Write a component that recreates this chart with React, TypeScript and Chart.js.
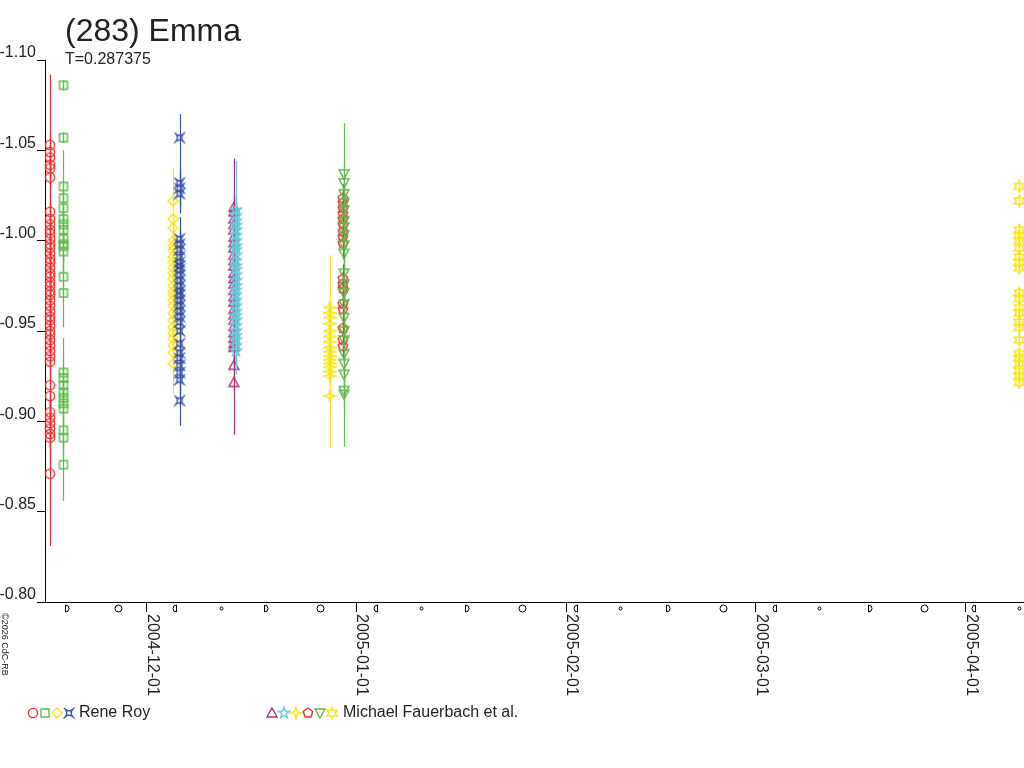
import React, { useEffect, useRef } from 'react';
import { Chart, registerables } from 'chart.js';

Chart.register(...registerables);

const FONT = '"Liberation Sans", Arial, Helvetica, sans-serif';

const TITLE = '(283) Emma';
const SUBTITLE = 'T=0.287375';
const COPYRIGHT = '©2026 CdC-RB';
const observerNames = ['Rene Roy', 'Michael Fauerbach et al.'];

const yTicks = [-1.1, -1.05, -1.0, -0.95, -0.9, -0.85, -0.8];
const xTickDates = ['2004-12-01', '2005-01-01', '2005-02-01', '2005-03-01', '2005-04-01'];
const xRange = ['2004-11-16T00:00:00Z', '2005-04-09T15:00:00Z'];

const moonFirstQuarter = ['2004-11-19T05:50Z', '2004-12-18T16:40Z', '2005-01-17T06:57Z', '2005-02-16T00:16Z', '2005-03-17T19:19Z'];
const moonFull = ['2004-11-26T20:07Z', '2004-12-26T15:06Z', '2005-01-25T10:32Z', '2005-02-24T04:54Z', '2005-03-25T20:58Z'];
const moonLastQuarter = ['2004-12-05T00:53Z', '2005-01-03T17:46Z', '2005-02-02T07:27Z', '2005-03-03T17:36Z', '2005-04-02T00:50Z'];
const moonNew = ['2004-12-12T01:29Z', '2005-01-10T12:03Z', '2005-02-08T22:28Z', '2005-03-10T09:10Z', '2005-04-08T20:32Z'];

// Rene Roy — red circles
const roy1Date = '2004-11-16T18:00:00Z';
const roy1Mag = [-1.053, -1.049, -1.046, -1.042, -1.04, -1.035, -1.016, -1.012, -1.009, -1.006, -1.004, -1.001, -0.998, -0.996, -0.993, -0.99, -0.988, -0.985, -0.982, -0.98, -0.977, -0.975, -0.972, -0.97, -0.967, -0.964, -0.961, -0.958, -0.956, -0.953, -0.95, -0.948, -0.945, -0.942, -0.939, -0.936, -0.933, -0.92, -0.914, -0.905, -0.902, -0.899, -0.896, -0.893, -0.891, -0.871];
const roy1Err = [0.039, 0.012, 0.01, 0.011, 0.009, 0.012, 0.01, 0.009, 0.011, 0.008, 0.01, 0.009, 0.011, 0.008, 0.01, 0.009, 0.012, 0.01, 0.009, 0.011, 0.01, 0.008, 0.012, 0.009, 0.01, 0.011, 0.009, 0.01, 0.012, 0.008, 0.011, 0.01, 0.009, 0.012, 0.01, 0.011, 0.013, 0.012, 0.011, 0.013, 0.012, 0.014, 0.011, 0.013, 0.02, 0.04];

// Rene Roy — green squares
const roy2Date = '2004-11-18T17:30:00Z';
const roy2Mag = [-1.086, -1.057, -1.03, -1.0235, -1.018, -1.012, -1.009, -1.006, -1.001, -0.998, -0.997, -0.994, -0.98, -0.971, -0.927, -0.924, -0.92, -0.916, -0.913, -0.91, -0.907, -0.895, -0.891, -0.876];
const roy2Err = [0.003, 0.003, 0.02, 0.01, 0.009, 0.011, 0.01, 0.008, 0.012, 0.01, 0.009, 0.011, 0.01, 0.019, 0.019, 0.011, 0.01, 0.012, 0.009, 0.011, 0.01, 0.012, 0.011, 0.02];

// Rene Roy — yellow diamonds
const roy3Date = '2004-12-04T22:00:00Z';
const roy3Mag = [-1.022, -1.012, -1.007, -1.0, -0.997, -0.995, -0.991, -0.988, -0.985, -0.982, -0.979, -0.975, -0.972, -0.97, -0.967, -0.964, -0.96, -0.956, -0.952, -0.949, -0.946, -0.942, -0.938, -0.932];
const roy3Err = [0.018, 0.01, 0.009, 0.011, 0.008, 0.01, 0.009, 0.011, 0.01, 0.008, 0.012, 0.009, 0.01, 0.011, 0.009, 0.01, 0.012, 0.009, 0.011, 0.01, 0.012, 0.011, 0.013, 0.017];

// Rene Roy — blue curl squares
const roy4Date = '2004-12-05T21:00:00Z';
const roy4Mag = [-1.057, -1.032, -1.029, -1.026, -1.001, -0.998, -0.995, -0.991, -0.988, -0.986, -0.984, -0.981, -0.978, -0.975, -0.972, -0.97, -0.967, -0.964, -0.961, -0.958, -0.955, -0.95, -0.943, -0.938, -0.935, -0.931, -0.927, -0.923, -0.9115];
const roy4Err = [0.013, 0.012, 0.01, 0.011, 0.012, 0.01, 0.009, 0.011, 0.01, 0.008, 0.012, 0.009, 0.01, 0.011, 0.009, 0.01, 0.012, 0.009, 0.011, 0.01, 0.012, 0.011, 0.01, 0.012, 0.011, 0.01, 0.012, 0.011, 0.014];

// Michael Fauerbach et al. — magenta triangles
const fau1Date = '2004-12-13T21:30:00Z';
const fau1Mag = [-1.0185, -1.016, -1.012, -1.009, -1.006, -1.002, -0.999, -0.996, -0.992, -0.989, -0.986, -0.982, -0.979, -0.976, -0.9725, -0.969, -0.966, -0.962, -0.959, -0.956, -0.9525, -0.949, -0.946, -0.943, -0.941, -0.931, -0.9215];
const fau1Err = [0.027, 0.01, 0.012, 0.009, 0.011, 0.01, 0.013, 0.009, 0.011, 0.012, 0.01, 0.009, 0.011, 0.012, 0.01, 0.011, 0.009, 0.012, 0.01, 0.011, 0.012, 0.01, 0.013, 0.011, 0.012, 0.014, 0.029];

// cyan stars
const fau2Date = '2004-12-14T05:00:00Z';
const fau2Mag = [-1.017, -1.014, -1.011, -1.0085, -1.006, -1.003, -1.0, -0.997, -0.995, -0.992, -0.989, -0.986, -0.984, -0.981, -0.978, -0.975, -0.9725, -0.97, -0.967, -0.964, -0.961, -0.9585, -0.956, -0.953, -0.95, -0.9475, -0.945, -0.942, -0.939];
const fau2Err = [0.027, 0.012, 0.01, 0.011, 0.013, 0.01, 0.012, 0.011, 0.009, 0.012, 0.01, 0.011, 0.013, 0.01, 0.012, 0.011, 0.01, 0.012, 0.011, 0.013, 0.01, 0.012, 0.011, 0.01, 0.012, 0.011, 0.01, 0.012, 0.013];

// yellow four-point stars
const fau3Date = '2004-12-28T02:00:00Z';
const fau3Mag = [-0.963, -0.96, -0.9575, -0.954, -0.95, -0.947, -0.944, -0.941, -0.9385, -0.936, -0.934, -0.932, -0.93, -0.9275, -0.925, -0.914];
const fau3Err = [0.029, 0.011, 0.01, 0.012, 0.009, 0.011, 0.01, 0.012, 0.011, 0.01, 0.012, 0.011, 0.01, 0.012, 0.011, 0.029];

// red pentagons
const fau4Date = '2004-12-30T00:00:00Z';
const fau4Mag = [-1.0235, -1.021, -1.018, -1.015, -1.012, -1.009, -1.005, -1.002, -0.9985, -0.979, -0.976, -0.9735, -0.965, -0.962, -0.9515, -0.945, -0.9415];
const fau4Err = [0.008, 0.007, 0.009, 0.008, 0.007, 0.009, 0.008, 0.007, 0.009, 0.008, 0.007, 0.009, 0.008, 0.007, 0.009, 0.008, 0.007];

// green down triangles
const fau5Date = '2004-12-30T04:00:00Z';
const fau5Mag = [-1.037, -1.032, -1.026, -1.021, -1.017, -1.011, -1.0075, -1.003, -0.9975, -0.993, -0.982, -0.976, -0.971, -0.965, -0.9575, -0.95, -0.945, -0.9375, -0.932, -0.926, -0.917, -0.915];
const fau5Err = [0.028, 0.012, 0.011, 0.01, 0.012, 0.011, 0.01, 0.012, 0.011, 0.013, 0.012, 0.01, 0.011, 0.012, 0.01, 0.011, 0.012, 0.01, 0.011, 0.012, 0.013, 0.029];

// yellow six-point stars
const fau6Date = '2005-04-08T22:00:00Z';
const fau6Mag = [-1.03, -1.022, -1.006, -1.003, -1.0, -0.996, -0.991, -0.988, -0.985, -0.971, -0.968, -0.963, -0.96, -0.955, -0.952, -0.945, -0.9375, -0.935, -0.932, -0.928, -0.925, -0.9215];
const fau6Err = [0.003, 0.002, 0.003, 0.002, 0.003, 0.003, 0.002, 0.003, 0.002, 0.003, 0.002, 0.003, 0.003, 0.002, 0.003, 0.002, 0.003, 0.002, 0.003, 0.002, 0.003, 0.002];

const RED = 'rgb(238,45,45)';
const GREEN = 'rgb(95,185,75)';
const YELLOW = 'rgb(248,230,20)';
const BLUE = 'rgb(55,80,165)';
const MAGENTA = 'rgb(176,45,120)';
const CYAN = 'rgb(105,203,220)';

type Shape = 'circle' | 'square' | 'diamond' | 'curl' | 'triangle' | 'star5' | 'star4' | 'pentagon' | 'triangleDown' | 'star6';

const seriesDefs: { date: string; mag: number[]; err: number[]; shape: Shape; color: string; observer: number }[] = [
  { date: roy1Date, mag: roy1Mag, err: roy1Err, shape: 'circle', color: RED, observer: 0 },
  { date: roy2Date, mag: roy2Mag, err: roy2Err, shape: 'square', color: GREEN, observer: 0 },
  { date: roy3Date, mag: roy3Mag, err: roy3Err, shape: 'diamond', color: YELLOW, observer: 0 },
  { date: roy4Date, mag: roy4Mag, err: roy4Err, shape: 'curl', color: BLUE, observer: 0 },
  { date: fau1Date, mag: fau1Mag, err: fau1Err, shape: 'triangle', color: MAGENTA, observer: 1 },
  { date: fau2Date, mag: fau2Mag, err: fau2Err, shape: 'star5', color: CYAN, observer: 1 },
  { date: fau3Date, mag: fau3Mag, err: fau3Err, shape: 'star4', color: YELLOW, observer: 1 },
  { date: fau4Date, mag: fau4Mag, err: fau4Err, shape: 'pentagon', color: RED, observer: 1 },
  { date: fau5Date, mag: fau5Mag, err: fau5Err, shape: 'triangleDown', color: GREEN, observer: 1 },
  { date: fau6Date, mag: fau6Mag, err: fau6Err, shape: 'star6', color: YELLOW, observer: 1 },
];

function starPath(g: CanvasRenderingContext2D, m: number, n: number, ro: number, ri: number) {
  for (let i = 0; i < n * 2; i++) {
    const r = i % 2 === 0 ? ro : ri;
    const a = -Math.PI / 2 + (i * Math.PI) / n;
    const px = m + r * Math.cos(a);
    const py = m + r * Math.sin(a);
    if (i === 0) g.moveTo(px, py);
    else g.lineTo(px, py);
  }
  g.closePath();
}

function makeMarker(shape: Shape, color: string): HTMLCanvasElement {
  const size = 14;
  const c = document.createElement('canvas');
  c.width = size;
  c.height = size;
  const g = c.getContext('2d') as CanvasRenderingContext2D;
  g.strokeStyle = color;
  g.lineWidth = 1.4;
  g.lineJoin = 'miter';
  const m = size / 2;
  g.beginPath();
  switch (shape) {
    case 'circle':
      g.arc(m, m, 4.6, 0, Math.PI * 2);
      break;
    case 'square':
      g.rect(m - 4, m - 4, 8, 8);
      break;
    case 'diamond':
      g.moveTo(m, m - 5);
      g.lineTo(m + 5, m);
      g.lineTo(m, m + 5);
      g.lineTo(m - 5, m);
      g.closePath();
      break;
    case 'curl':
      g.moveTo(m - 3.5, m - 3.5);
      g.quadraticCurveTo(m, m - 1, m + 3.5, m - 3.5);
      g.quadraticCurveTo(m + 1, m, m + 3.5, m + 3.5);
      g.quadraticCurveTo(m, m + 1, m - 3.5, m + 3.5);
      g.quadraticCurveTo(m - 1, m, m - 3.5, m - 3.5);
      g.moveTo(m - 3.5, m - 3.5); g.lineTo(m - 5, m - 5);
      g.moveTo(m + 3.5, m - 3.5); g.lineTo(m + 5, m - 5);
      g.moveTo(m + 3.5, m + 3.5); g.lineTo(m + 5, m + 5);
      g.moveTo(m - 3.5, m + 3.5); g.lineTo(m - 5, m + 5);
      break;
    case 'triangle':
      g.moveTo(m, m - 5);
      g.lineTo(m + 5, m + 4);
      g.lineTo(m - 5, m + 4);
      g.closePath();
      break;
    case 'triangleDown':
      g.moveTo(m - 5, m - 4);
      g.lineTo(m + 5, m - 4);
      g.lineTo(m, m + 5);
      g.closePath();
      break;
    case 'pentagon':
      for (let i = 0; i < 5; i++) {
        const a = -Math.PI / 2 + (i * 2 * Math.PI) / 5;
        const px = m + 5 * Math.cos(a);
        const py = m + 5 * Math.sin(a);
        if (i === 0) g.moveTo(px, py);
        else g.lineTo(px, py);
      }
      g.closePath();
      break;
    case 'star5':
      starPath(g, m, 5, 5.8, 2.4);
      break;
    case 'star4':
      starPath(g, m, 4, 5.8, 1.8);
      break;
    case 'star6':
      starPath(g, m, 6, 5.8, 3.0);
      break;
  }
  g.stroke();
  return c;
}

const ms = (s: string) => Date.parse(s);

const decorPlugin = {
  id: 'decor',
  beforeDatasetDraw(chart: any, args: any) {
    const ds = chart.data.datasets[args.index];
    const errs: number[] | undefined = ds.errors;
    if (!errs) return;
    const ctx: CanvasRenderingContext2D = chart.ctx;
    const xs = chart.scales.x;
    const ys = chart.scales.y;
    ctx.save();
    ctx.strokeStyle = ds.errorColor;
    ctx.lineWidth = 1.2;
    ds.data.forEach((p: { x: number; y: number }, i: number) => {
      const px = Math.round(xs.getPixelForValue(p.x)) + 0.5;
      const y1 = ys.getPixelForValue(p.y - errs[i]);
      const y2 = ys.getPixelForValue(p.y + errs[i]);
      ctx.beginPath();
      ctx.moveTo(px, y1);
      ctx.lineTo(px, y2);
      ctx.stroke();
    });
    ctx.restore();
  },
  afterDraw(chart: any) {
    const ctx: CanvasRenderingContext2D = chart.ctx;
    const xs = chart.scales.x;
    const markers: HTMLCanvasElement[] = chart.options.plugins.decor.markers;
    ctx.save();
    ctx.fillStyle = '#222';
    ctx.textAlign = 'left';
    ctx.textBaseline = 'alphabetic';
    ctx.font = `32px ${FONT}`;
    ctx.fillText(TITLE, 65, 41);
    ctx.font = `16px ${FONT}`;
    ctx.fillText(SUBTITLE, 65, 64);

    // rotated date labels
    const axisY = chart.chartArea.bottom;
    xTickDates.forEach((d) => {
      const px = Math.round(xs.getPixelForValue(ms(d + 'T00:00:00Z')));
      ctx.save();
      ctx.translate(px + 1, axisY + 12);
      ctx.rotate(Math.PI / 2);
      ctx.fillText(d, 0, 0);
      ctx.restore();
    });

    // copyright
    ctx.save();
    ctx.font = `9px ${FONT}`;
    ctx.translate(2, axisY + 11);
    ctx.rotate(Math.PI / 2);
    ctx.fillText(COPYRIGHT, 0, 0);
    ctx.restore();

    // moon phases
    const my = axisY + 6.5;
    ctx.strokeStyle = '#000';
    ctx.lineWidth = 1;
    moonFull.forEach((d) => {
      const px = Math.round(xs.getPixelForValue(ms(d))) + 0.5;
      ctx.beginPath();
      ctx.arc(px, my, 3.5, 0, Math.PI * 2);
      ctx.stroke();
    });
    moonNew.forEach((d) => {
      const px = Math.round(xs.getPixelForValue(ms(d))) + 0.5;
      ctx.beginPath();
      ctx.arc(px, my, 1.5, 0, Math.PI * 2);
      ctx.stroke();
    });
    moonFirstQuarter.forEach((d) => {
      const px = Math.round(xs.getPixelForValue(ms(d))) - 1.5;
      ctx.beginPath();
      ctx.moveTo(px, my - 3.5);
      ctx.lineTo(px, my + 3.5);
      ctx.arc(px, my, 3.5, Math.PI / 2, -Math.PI / 2, true);
      ctx.stroke();
    });
    moonLastQuarter.forEach((d) => {
      const px = Math.round(xs.getPixelForValue(ms(d))) + 2.5;
      ctx.beginPath();
      ctx.moveTo(px, my - 3.5);
      ctx.lineTo(px, my + 3.5);
      ctx.arc(px, my, 3.5, Math.PI / 2, -Math.PI / 2, false);
      ctx.stroke();
    });

    // legend
    const ly = 713;
    const legendStarts = [33, 272];
    const textStarts = [79, 343];
    observerNames.forEach((name, oi) => {
      let k = 0;
      seriesDefs.forEach((s, si) => {
        if (s.observer !== oi) return;
        const cx = legendStarts[oi] + k * 12;
        const img = markers[si];
        ctx.drawImage(img, Math.round(cx - img.width / 2), Math.round(ly - img.height / 2));
        k++;
      });
      ctx.font = `16px ${FONT}`;
      ctx.fillStyle = '#222';
      ctx.textBaseline = 'middle';
      ctx.fillText(name, textStarts[oi], ly);
      ctx.textBaseline = 'alphabetic';
    });
    ctx.restore();
  },
};

export default function App() {
  const ref = useRef<HTMLCanvasElement | null>(null);

  useEffect(() => {
    document.body.style.margin = '0';
    const canvas = ref.current;
    if (!canvas) return;
    const markers = seriesDefs.map((s) => makeMarker(s.shape, s.color));
    const n = seriesDefs.length;
    const datasets = seriesDefs.map((s, i) => ({
      label: observerNames[s.observer],
      data: s.mag.map((m) => ({ x: ms(s.date), y: m })),
      errors: s.err,
      errorColor: s.color,
      pointStyle: markers[i],
      pointRadius: 5,
      borderColor: s.color,
      backgroundColor: s.color,
      showLine: false,
      clip: false,
      order: n - i,
    }));

    const chart = new Chart(canvas, {
      type: 'scatter',
      data: { datasets: datasets as any },
      plugins: [decorPlugin as any],
      options: {
        animation: false,
        responsive: false,
        devicePixelRatio: 1,
        events: [],
        layout: { autoPadding: false, padding: { top: 60, left: 0, right: 0, bottom: 0 } },
        plugins: {
          legend: { display: false },
          tooltip: { enabled: false },
          title: { display: false },
          decor: { markers },
        } as any,
        scales: {
          x: {
            type: 'linear',
            min: ms(xRange[0]),
            max: ms(xRange[1]),
            afterBuildTicks: (s: any) => {
              s.ticks = xTickDates.map((d) => ({ value: ms(d + 'T00:00:00Z') }));
            },
            afterFit: (s: any) => {
              s.height = 166;
            },
            ticks: { display: false },
            grid: { drawOnChartArea: false, drawTicks: true, tickLength: 10, color: '#000', lineWidth: 1 },
            border: { display: true, color: '#000', width: 1 },
          },
          y: {
            type: 'linear',
            reverse: true,
            min: yTicks[0],
            max: yTicks[yTicks.length - 1],
            afterBuildTicks: (s: any) => {
              s.ticks = yTicks.map((v) => ({ value: v }));
            },
            afterFit: (s: any) => {
              s.width = 45;
            },
            ticks: {
              autoSkip: false,
              padding: 1,
              labelOffset: -7,
              color: '#222',
              font: { size: 16, family: FONT },
              callback: (v: any) => Number(v).toFixed(2),
            },
            grid: { drawOnChartArea: false, drawTicks: true, tickLength: 8, color: '#000', lineWidth: 1 },
            border: { display: true, color: '#000', width: 1 },
          },
        },
      } as any,
    });
    return () => chart.destroy();
  }, []);

  return (
    <div style={{ width: 1024, height: 768, background: '#fff' }}>
      <canvas ref={ref} width={1024} height={768} style={{ display: 'block', width: 1024, height: 768 }} />
    </div>
  );
}
